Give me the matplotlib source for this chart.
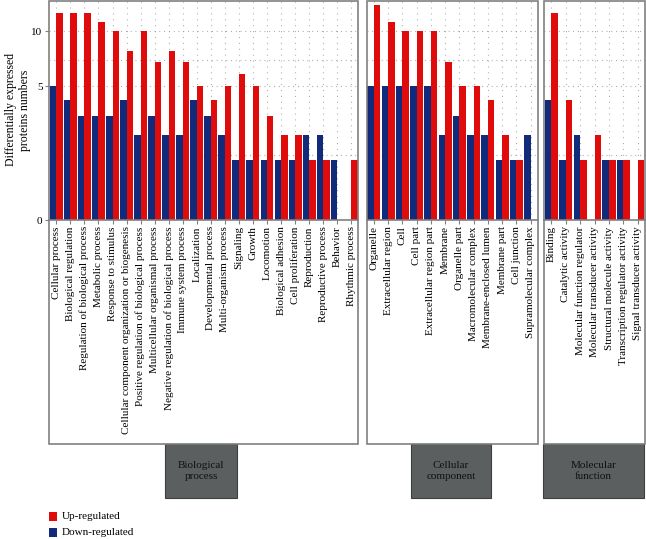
import numpy as np
import matplotlib
matplotlib.use("Agg")
import matplotlib.pyplot as plt
from matplotlib.patches import Rectangle

plt.rcParams['font.family'] = ['Liberation Serif', 'DejaVu Serif']

# GO categories and counts
bp_labels = ["Cellular process", "Biological regulation", "Regulation of biological process",
             "Metabolic process", "Response to stimulus",
             "Cellular component organization or biogenesis",
             "Positive regulation of biological process", "Multicellular organismal process",
             "Negative regulation of biological process", "Immune system process",
             "Localization", "Developmental process", "Multi-organism process", "Signaling",
             "Growth", "Locomotion", "Biological adhesion", "Cell proliferation",
             "Reproduction", "Reproductive process", "Behavior", "Rhythmic process"]
bp_up = [12, 12, 12, 11, 10, 8, 10, 7, 8, 7, 5, 4, 5, 6, 5, 3, 2, 2, 1, 1, 0, 1]
bp_down = [5, 4, 3, 3, 3, 4, 2, 3, 2, 2, 4, 3, 2, 1, 1, 1, 1, 1, 2, 2, 1, 0]

cc_labels = ["Organelle", "Extracellular region", "Cell", "Cell part",
             "Extracellular region part", "Membrane", "Organelle part",
             "Macromolecular complex", "Membrane-enclosed lumen", "Membrane part",
             "Cell junction", "Supramolecular complex"]
cc_up = [13, 11, 10, 10, 10, 7, 5, 5, 4, 2, 1, 0]
cc_down = [5, 5, 5, 5, 5, 2, 3, 2, 2, 1, 1, 2]

mf_labels = ["Binding", "Catalytic activity", "Molecular function regulator",
             "Molecular transducer activity", "Structural molecule activity",
             "Transcription regulator activity", "Signal transducer activity"]
mf_up = [12, 4, 1, 2, 1, 1, 1]
mf_down = [4, 1, 2, 0, 1, 1, 0]

group_names = ["Biological\nprocess", "Cellular\ncomponent", "Molecular\nfunction"]

RED = '#e00b0b'
BLUE = '#122a7a'
GRAY = '#808080'

W, H = 646, 539
fig = plt.figure(figsize=(W / 100, H / 100), dpi=100)


def fx(px):
    return px / W


def fy(py):
    return 1 - py / H


# panel extents in pixels: (left, right)
panels = [(49.3, 358.3), (366.7, 537.7), (544.3, 645)]
boxes = [(165, 237), (411, 491), (543, 644)]
data = [(bp_labels, bp_up, bp_down), (cc_labels, cc_up, cc_down), (mf_labels, mf_up, mf_down)]

top_px, axis_px, bottom_px, box_px = 1, 220, 444, 498

for k, ((x0, x1), (labels, up, down)) in enumerate(zip(panels, data)):
    ax = fig.add_axes([fx(x0), fy(axis_px), fx(x1 - x0), fy(top_px) - fy(axis_px)])
    ax.set_yscale('function', functions=(lambda v: np.sqrt(np.clip(v, 0, None)), lambda v: v ** 2))
    x = np.arange(len(labels))
    ax.bar(x - 0.23, down, width=0.46, color=BLUE, zorder=3, linewidth=0)
    ax.bar(x + 0.23, up, width=0.46, color=RED, zorder=3, linewidth=0)
    ax.set_xlim(-0.5, len(labels) - 0.5)
    ax.set_ylim(0, 13.43)

    # dotted grid
    for xi in x:
        ax.axvline(xi, color='#a0a0a0', lw=0.8, ls=(0, (0.8, 4.5)), zorder=1)
    for yv in [1.2, 5, 7.2, 10]:
        ax.axhline(yv, color='#a0a0a0', lw=0.8, ls=(0, (0.8, 3.5)), zorder=1)

    for s in ['top', 'left', 'right']:
        ax.spines[s].set_visible(False)
    ax.spines['bottom'].set_color(GRAY)
    ax.spines['bottom'].set_linewidth(1.2)
    ax.spines['bottom'].set_zorder(4)

    ax.set_xticks(x)
    ax.set_xticklabels(labels, rotation=90, fontsize=8)
    ax.tick_params(axis='x', length=3, width=0.8, color=GRAY, pad=1.5)
    if k == 0:
        ax.set_yticks([0, 5, 10])
        ax.set_yticklabels(['0', '5', '10'], fontsize=8)
        ax.tick_params(axis='y', length=3, width=0.8, color=GRAY, pad=2)
    else:
        ax.set_yticks([])
    ax.yaxis.set_minor_locator(matplotlib.ticker.NullLocator())

    # frame around bars + labels
    fig.add_artist(Rectangle((fx(x0), fy(bottom_px)), fx(x1 - x0), fy(top_px) - fy(bottom_px),
                             transform=fig.transFigure, fill=False, edgecolor=GRAY, lw=1.2, zorder=5))

    # group box
    b0, b1 = boxes[k]
    fig.add_artist(Rectangle((fx(b0), fy(box_px)), fx(b1 - b0), fy(bottom_px) - fy(box_px),
                             transform=fig.transFigure, facecolor='#5b5f5f', edgecolor='#3c3f3f',
                             lw=0.8, zorder=4))
    fig.text(fx((b0 + b1) / 2), fy((bottom_px + box_px) / 2), group_names[k],
             ha='center', va='center', fontsize=8, color='#111111', linespacing=1.3, zorder=6)

fig.text(fx(18), fy(110), "Differentially expressed\nproteins numbers", rotation=90,
         ha='center', va='center', fontsize=8.5, linespacing=1.25)

# legend
for i, (c, t) in enumerate([(RED, "Up-regulated"), (BLUE, "Down-regulated")]):
    y0 = 512 + 16 * i
    fig.add_artist(Rectangle((fx(49), fy(y0 + 9)), fx(8), fy(y0) - fy(y0 + 9),
                             transform=fig.transFigure, facecolor=c, edgecolor='none'))
    fig.text(fx(62), fy(y0 + 4.5), t, ha='left', va='center', fontsize=8)

fig.savefig("out.png", dpi=100)
